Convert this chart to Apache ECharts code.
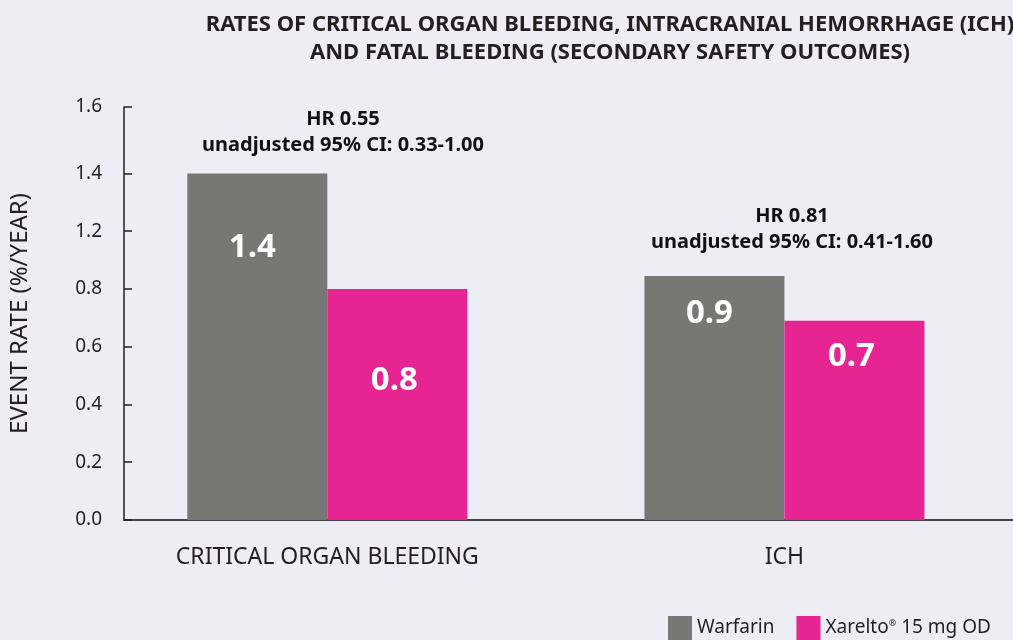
<!DOCTYPE html>
<html>
<head>
<meta charset="utf-8">
<script src="https://cdn.jsdelivr.net/npm/echarts@6/dist/echarts.min.js"></script>
<style>
  html, body { margin: 0; padding: 0; background: #EEEDF6; }
  #chart { width: 1013px; height: 640px; }
</style>
</head>
<body>
<div id="chart"></div>
<script>
// data
var categories = ['CRITICAL ORGAN BLEEDING', 'ICH'];
var warfarin = [1.4, 0.89];
var xarelto = [0.8, 0.69];
var tickLabels = [0.0, 0.2, 0.4, 0.6, 0.8, 1.2, 1.4, 1.6];
var hrNotes = ['HR 0.55\nunadjusted 95% CI: 0.33-1.00', 'HR 0.81\nunadjusted 95% CI: 0.41-1.60'];

// the printed axis skips 1.0, so ticks are evenly spaced by index (top one a bit higher)
var topPos = 7.15;
var tickPos = tickLabels.map(function (t, i) { return i == tickLabels.length - 1 ? topPos : i; });
var toAxis = function (v) {
    for (var i = 0; i < tickLabels.length - 1; i++) {
        if (v <= tickLabels[i + 1]) {
            return tickPos[i] + (v - tickLabels[i]) / (tickLabels[i + 1] - tickLabels[i]) * (tickPos[i + 1] - tickPos[i]);
        }
    }
    return topPos;
};

var font = 'Noto Sans';
var labelPad = [[58, 21], [75, 19]];   // warfarin / xarelto value label distance from bar top
var labelShift = [-5, -3];

var makeData = function (vals, s) {
    return vals.map(function (v, i) {
        return { value: toAxis(v), raw: v, label: { distance: labelPad[s][i], offset: [labelShift[s], 0] } };
    });
};

var barLabel = {
    show: true,
    position: 'insideTop',
    color: '#fff',
    fontFamily: font,
    fontWeight: 'bold',
    fontSize: 33,
    formatter: function (p) { return p.data.raw.toFixed(1); }
};

var myChart = echarts.init(document.getElementById('chart'));
var option = {
    backgroundColor: '#EEEDF6',
    animation: false,
    title: [
        {
            text: 'RATES OF CRITICAL ORGAN BLEEDING, INTRACRANIAL HEMORRHAGE (ICH)\nAND FATAL BLEEDING (SECONDARY SAFETY OUTCOMES)',
            left: 605, top: 6, textAlign: 'center',
            textStyle: { fontFamily: font, fontWeight: 'bold', fontSize: 22, lineHeight: 28, color: '#231F20' }
        },
        {
            text: hrNotes[0], left: 338, top: 101, textAlign: 'center',
            textStyle: { fontFamily: font, fontWeight: 'bold', fontSize: 20, lineHeight: 26, color: '#111' }
        },
        {
            text: hrNotes[1], left: 787, top: 198, textAlign: 'center',
            textStyle: { fontFamily: font, fontWeight: 'bold', fontSize: 20, lineHeight: 26, color: '#111' }
        }
    ],
    legend: {
        left: 668, top: 616, right: 0, padding: 0,
        itemWidth: 24, itemHeight: 24, itemGap: 22,
        icon: 'rect',
        textStyle: {
            fontFamily: font, fontSize: 19, color: '#231F20',
            rich: { s: { fontFamily: font, fontSize: 9, padding: [0, 0, 10, 0], color: '#231F20' } }
        },
        formatter: function (name) { return name.replace('®', '{s|®}'); }
    },
    grid: [
        { left: 122.5, right: 0, top: 107, bottom: 120 },
        { left: 98.75, width: 915, top: 107, bottom: 120 }
    ],
    xAxis: [
        {
            gridIndex: 0, type: 'value', min: 0, max: 1,
            axisLine: { show: true, lineStyle: { color: '#444', width: 2 } },
            axisTick: { show: false }, axisLabel: { show: false }, splitLine: { show: false }
        },
        {
            gridIndex: 1, type: 'category', data: categories,
            axisLine: { show: false }, axisTick: { show: false },
            axisLabel: { margin: 26, fontFamily: font, fontSize: 23, color: '#231F20' }
        }
    ],
    yAxis: [
        {
            gridIndex: 0, type: 'value', min: 0, max: topPos,
            name: 'EVENT RATE (%/YEAR)', nameLocation: 'middle', nameGap: 92,
            nameTextStyle: { fontFamily: font, fontSize: 24, color: '#231F20' },
            axisLine: { show: true, lineStyle: { color: '#231F20', width: 1.5 } },
            axisTick: { show: true, inside: true, length: 8, customValues: tickPos, lineStyle: { color: '#231F20', width: 1.5 } },
            axisLabel: {
                customValues: tickPos, margin: 22,
                fontFamily: font, fontSize: 19, color: '#231F20',
                formatter: function (v) {
                    var i = tickPos.indexOf(v);
                    return i < 0 ? '' : tickLabels[i].toFixed(1);
                }
            },
            splitLine: { show: false }
        },
        {
            gridIndex: 1, type: 'value', min: 0, max: topPos, show: false,
            splitLine: { show: false }
        }
    ],
    series: [
        {
            name: 'Warfarin', type: 'bar', xAxisIndex: 1, yAxisIndex: 1,
            barWidth: 140, barGap: '0%',
            itemStyle: { color: '#777776' },
            label: barLabel,
            data: makeData(warfarin, 0)
        },
        {
            name: 'Xarelto® 15 mg OD', type: 'bar', xAxisIndex: 1, yAxisIndex: 1,
            barWidth: 140, barGap: '0%',
            itemStyle: { color: '#E62592' },
            label: barLabel,
            data: makeData(xarelto, 1)
        }
    ]
};
myChart.setOption(option);
</script>
</body>
</html>
